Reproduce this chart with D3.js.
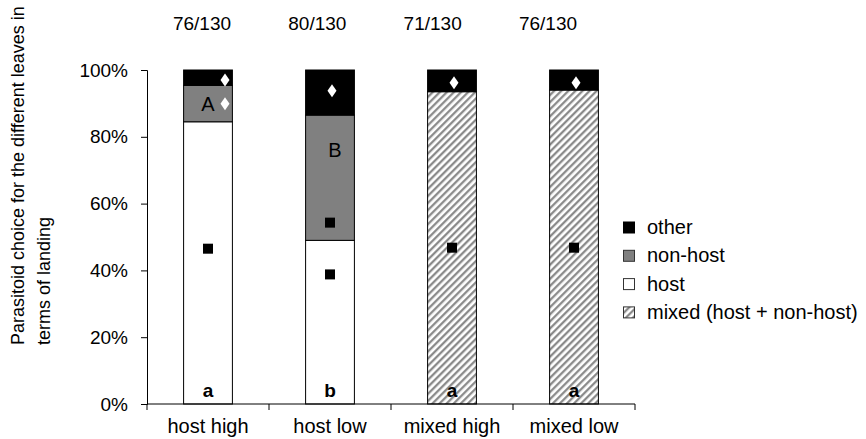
<!DOCTYPE html>
<html>
<head>
<meta charset="utf-8">
<script src="https://cdn.jsdelivr.net/npm/d3@7"></script>
<style>
  html, body { margin: 0; padding: 0; background: #fff; }
  svg { display: block; font-family: "Liberation Sans", Arial, sans-serif; }
</style>
</head>
<body>
<svg id="chart" width="866" height="439"></svg>
<script>
// Landing choice per treatment (percent of landings)
const categories = ["host high", "host low", "mixed high", "mixed low"];
const hostPct    = [84.5, 49.0, 0, 0];
const nonHostPct = [10.9, 37.5, 0, 0];
const mixedPct   = [0, 0, 93.5, 94.0];
const otherPct   = [4.6, 13.5, 6.5, 6.0];
const counts     = ["76/130", "80/130", "71/130", "76/130"];
const groupLetters   = ["a", "b", "a", "a"];
const segmentLetters = [{cat: "host high", letter: "A", pct: 89.9}, {cat: "host low", letter: "B", pct: 76}];
// significance markers
const squares  = [{cat: "host high", pct: 46.5}, {cat: "host low", pct: 54.3}, {cat: "host low", pct: 38.8},
                  {cat: "mixed high", pct: 46.8}, {cat: "mixed low", pct: 46.8}];
const diamonds = [{cat: "host high", pct: 97.0, side: 1}, {cat: "host high", pct: 89.9, side: 1},
                  {cat: "host low", pct: 93.8, side: 0}, {cat: "mixed high", pct: 96.2, side: 0},
                  {cat: "mixed low", pct: 96.2, side: 0}];
const yTicks = [0, 20, 40, 60, 80, 100];
const legendItems = ["other", "non-host", "host", "mixed (host + non-host)"];

const svg = d3.select("#chart");
const FONT = 19;
const FONT_L = 20;
const margin = {left: 147, right: 231, top: 70, bottom: 35};
const W = 866, H = 439;

const x = d3.scaleBand().domain(categories).range([margin.left, W - margin.right]).paddingInner(0.6).paddingOuter(0.3);
const xBand = d3.scaleBand().domain(categories).range([margin.left, W - margin.right]);
const y = d3.scaleLinear().domain([0, 100]).range([H - margin.bottom, margin.top]);

// hatch for mixed leaves
const defs = svg.append("defs");
const pat = defs.append("pattern").attr("id", "hatch").attr("patternUnits", "userSpaceOnUse")
  .attr("width", 5).attr("height", 5).attr("patternTransform", "rotate(45)");
pat.append("rect").attr("width", 5).attr("height", 5).attr("fill", "#fff");
pat.append("line").attr("x1", 1.2).attr("y1", 0).attr("x2", 1.2).attr("y2", 5)
  .attr("stroke", "#858585").attr("stroke-width", 2.2);

const fills = {host: "#ffffff", nonhost: "#808080", mixed: "url(#hatch)", other: "#000000"};

// stacked segments
const rows = categories.map((c, i) => ({cat: c, host: hostPct[i], nonhost: nonHostPct[i], mixed: mixedPct[i], other: otherPct[i]}));
const stack = d3.stack().keys(["host", "mixed", "nonhost", "other"]);
const series = stack(rows);

const gBars = svg.append("g");
series.forEach(s => {
  gBars.selectAll(null).data(s.filter(d => d[1] - d[0] > 0)).enter().append("rect")
    .attr("x", d => x(d.data.cat))
    .attr("width", x.bandwidth())
    .attr("y", d => y(d[1]))
    .attr("height", d => y(d[0]) - y(d[1]))
    .attr("fill", fills[s.key])
    .attr("stroke", "#000")
    .attr("stroke-width", 1);
});

// axes
const yAxis = d3.axisLeft(y).tickValues(yTicks).tickFormat(d => d + "%").tickSize(6).tickPadding(13);
const gy = svg.append("g").attr("transform", `translate(${margin.left},0)`).call(yAxis);
const xAxis = d3.axisBottom(xBand).tickSize(0).tickPadding(16);
const gx = svg.append("g").attr("transform", `translate(0,${H - margin.bottom})`).call(xAxis);
[gy, gx].forEach(g => {
  g.select(".domain").attr("stroke", "#000");
  g.selectAll("text").attr("font-family", "Liberation Sans, Arial, sans-serif").attr("fill", "#000");
  g.selectAll(".tick line").attr("stroke", "#000");
});
gy.selectAll("text").attr("font-size", FONT);
gx.selectAll("text").attr("font-size", FONT_L);
gx.select(".domain").attr("d", `M${margin.left},0H${W - margin.right}`);
// category boundary ticks
const bounds = [margin.left].concat(categories.map(c => xBand(c) + xBand.bandwidth()));
gx.selectAll(".bound").data(bounds).enter().append("line")
  .attr("x1", d => d).attr("x2", d => d).attr("y1", 0).attr("y2", 6).attr("stroke", "#000");
gx.selectAll(".tick text").attr("dy", "0.66em");

// markers
const cx = d => x(d.cat) + x.bandwidth() / 2;
svg.append("g").selectAll("rect").data(squares).enter().append("rect")
  .attr("x", d => cx(d) - 5).attr("y", d => y(d.pct) - 5)
  .attr("width", 10).attr("height", 10).attr("fill", "#000");
svg.append("g").selectAll("path").data(diamonds).enter().append("path")
  .attr("transform", d => `translate(${cx(d) + d.side * 17 + (d.side ? 0 : 2)},${y(d.pct)})`)
  .attr("d", "M0,-6.5L4.5,0L0,6.5L-4.5,0Z")
  .attr("fill", "#fff");

// segment and group letters
svg.append("g").selectAll("text").data(segmentLetters).enter().append("text")
  .attr("x", (d, i) => cx(d) + (i === 0 ? 0 : 5))
  .attr("y", d => y(d.pct)).attr("dy", "0.35em")
  .attr("text-anchor", "middle").attr("font-size", FONT_L).text(d => d.letter);
svg.append("g").selectAll("text").data(groupLetters).enter().append("text")
  .attr("x", (d, i) => x(categories[i]) + x.bandwidth() / 2)
  .attr("y", y(4.2)).attr("dy", "0.35em")
  .attr("text-anchor", "middle").attr("font-size", FONT).attr("font-weight", "bold").text(d => d);

// counts above bars
const xc = d3.scalePoint().domain(categories).range([202, 548]);
svg.append("g").selectAll("text").data(counts).enter().append("text")
  .attr("x", (d, i) => xc(categories[i])).attr("y", 23).attr("dy", "0.35em")
  .attr("text-anchor", "middle").attr("font-size", FONT).text(d => d);

// y axis title
const yt = svg.append("text").attr("transform", "translate(18,345) rotate(-90)")
  .attr("font-size", FONT - 1).attr("text-anchor", "start");
yt.append("tspan").attr("x", 0).attr("dy", "0.35em").text("Parasitoid choice for the different leaves in");
yt.append("tspan").attr("x", 0).attr("dy", "1.45em").text("terms of landing");

// legend
const legendFill = ["#000000", "#808080", "#ffffff", "url(#hatch)"];
const lg = svg.append("g").attr("transform", "translate(623,227)");
const li = lg.selectAll("g").data(legendItems).enter().append("g")
  .attr("transform", (d, i) => `translate(0,${i * 28.3})`);
li.append("rect").attr("x", 0.5).attr("y", -5).attr("width", 11).attr("height", 11)
  .attr("fill", (d, i) => legendFill[i]).attr("stroke", (d, i) => i === 0 ? "#000" : "#333").attr("stroke-width", 1);
li.append("text").attr("x", 24).attr("y", 0).attr("dy", "0.35em").attr("font-size", FONT_L).text(d => d);
</script>
</body>
</html>
